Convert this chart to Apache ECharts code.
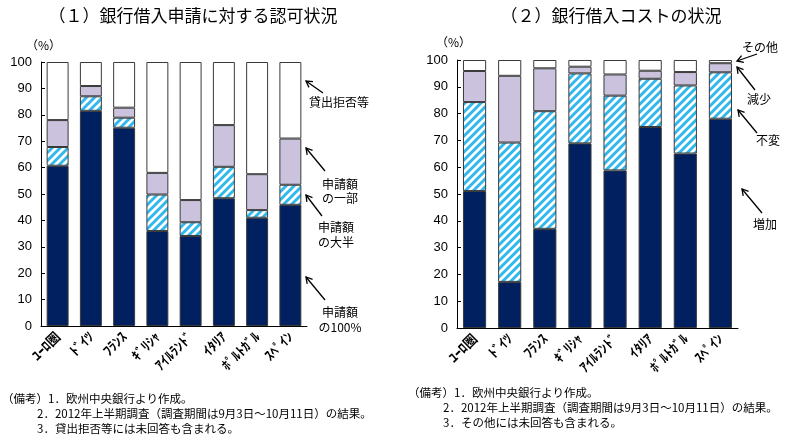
<!DOCTYPE html>
<html>
<head>
<meta charset="utf-8">
<script src="https://cdn.jsdelivr.net/npm/echarts@6/dist/echarts.min.js"></script>
<style>
  html, body { margin: 0; padding: 0; background: #fff; }
  #chart { width: 809px; height: 446px; }
</style>
</head>
<body>
<div id="chart"></div>
<script>
// 国名（半角カナ）
const countries = ['ﾕｰﾛ圏', 'ﾄﾞｲﾂ', 'ﾌﾗﾝｽ', 'ｷﾞﾘｼｬ', 'ｱｲﾙﾗﾝﾄﾞ', 'ｲﾀﾘｱ', 'ﾎﾟﾙﾄｶﾞﾙ', 'ｽﾍﾟｲﾝ']
const yTicks = [0, 10, 20, 30, 40, 50, 60, 70, 80, 90, 100]

// （１）銀行借入申請に対する認可状況
const full100 = [60.7, 81.5, 75.1, 36.0, 34.1, 48.4, 41.0, 45.9]
const mostPart = [7.1, 5.5, 3.8, 13.8, 5.2, 11.9, 2.9, 7.6]
const somePart = [10.2, 3.9, 3.8, 8.2, 8.4, 15.8, 13.6, 17.5]
const refused = [22.0, 9.1, 17.3, 42.0, 52.3, 23.9, 42.5, 29.0]

// （２）銀行借入コストの状況
const costUp = [51.1, 17.2, 37.0, 68.9, 58.8, 75.0, 65.1, 78.1]
const costSame = [33.2, 52.0, 43.9, 26.1, 27.9, 18.0, 25.4, 17.3]
const costDown = [11.6, 24.9, 16.0, 2.5, 7.9, 3.0, 5.0, 3.4]
const costOther = [4.1, 5.9, 3.1, 2.5, 5.4, 4.0, 4.5, 1.2]

const NAVY = '#002060'
const LAV = '#cbc3dd'
const CYAN = '#33b8ec'
const JP = '"Noto Sans CJK JP", sans-serif'

// 斜線パターン
function stripes() {
  const c = document.createElement('canvas')
  c.width = 8
  c.height = 8
  const g = c.getContext('2d')
  g.fillStyle = '#fff'
  g.fillRect(0, 0, 8, 8)
  g.strokeStyle = CYAN
  g.lineWidth = 3
  g.beginPath()
  g.moveTo(-2, 10); g.lineTo(10, -2)
  g.moveTo(-6, 6); g.lineTo(6, -6)
  g.moveTo(2, 14); g.lineTo(14, 2)
  g.stroke()
  return c
}
const hatch = { image: stripes(), repeat: 'repeat' }

function xAxis(gridIndex) {
  return {
    type: 'category',
    gridIndex: gridIndex,
    data: countries,
    axisLine: { lineStyle: { color: '#000', width: 1 } },
    axisTick: { show: false },
    axisLabel: {
      interval: 0,
      rotate: 45,
      margin: 8,
      fontFamily: JP,
      fontWeight: 'bold',
      fontSize: 13.5,
      color: '#000'
    }
  }
}

function yAxis(gridIndex) {
  return {
    type: 'value',
    gridIndex: gridIndex,
    min: 0,
    max: 100,
    interval: 10,
    axisLine: { show: true, lineStyle: { color: '#000', width: 1 } },
    axisTick: { show: true, inside: true, length: 4, lineStyle: { color: '#000' } },
    splitLine: { show: false },
    axisLabel: {
      margin: 9,
      fontFamily: 'Liberation Sans, Arial, sans-serif',
      fontSize: 13,
      color: '#000',
      formatter: function (v) { return yTicks.indexOf(v) >= 0 ? String(v) : '' }
    }
  }
}

function bar(name, data, color, axisIdx, stack) {
  return {
    name: name,
    type: 'bar',
    stack: stack,
    xAxisIndex: axisIdx,
    yAxisIndex: axisIdx,
    data: data,
    barCategoryGap: '34%',
    itemStyle: { color: color, borderColor: '#3a3a3a', borderWidth: 1 },
    emphasis: { disabled: true }
  }
}

// 矢印（↖）
function arrow(tip, tail) {
  const dx = tail[0] - tip[0]
  const dy = tail[1] - tip[1]
  const len = Math.sqrt(dx * dx + dy * dy)
  const ux = dx / len
  const uy = dy / len
  const a = Math.PI / 6
  const h = 7
  const p1 = [tip[0] + h * (ux * Math.cos(a) - uy * Math.sin(a)), tip[1] + h * (ux * Math.sin(a) + uy * Math.cos(a))]
  const p2 = [tip[0] + h * (ux * Math.cos(-a) - uy * Math.sin(-a)), tip[1] + h * (ux * Math.sin(-a) + uy * Math.cos(-a))]
  return [
    { type: 'line', shape: { x1: tip[0], y1: tip[1], x2: tail[0], y2: tail[1] }, style: { stroke: '#000', lineWidth: 1.3 } },
    { type: 'polyline', shape: { points: [p1, tip, p2] }, style: { stroke: '#000', lineWidth: 1.3, fill: null } }
  ]
}

function label(text, x, y, size, align) {
  return {
    type: 'text',
    x: x,
    y: y,
    style: {
      text: text,
      fontFamily: JP,
      fontSize: size || 12,
      fill: '#000',
      align: align || 'center',
      verticalAlign: 'middle'
    }
  }
}

const graphics = [].concat(
  arrow([306, 81], [323, 93]),
  arrow([306, 148], [325, 171]),
  arrow([306, 195], [322, 216]),
  arrow([306, 277], [325, 300]),
  arrow([737, 61], [757, 54]),
  arrow([737, 67], [755, 90]),
  arrow([738, 110], [757, 133]),
  arrow([742, 189], [762, 213]),
  [
    label('貸出拒否等', 339, 102),
    label('申請額', 340, 184),
    label('の一部', 340, 198),
    label('申請額', 336, 227),
    label('の大半', 336, 242),
    label('申請額', 340, 312),
    label('の100%', 340, 327),
    label('その他', 760, 47),
    label('減少', 759, 99),
    label('不変', 768, 140),
    label('増加', 765, 224),
    label('（%）', 26, 45, 12, 'left'),
    label('（%）', 436, 42, 12, 'left'),
    label('（備考）1．欧州中央銀行より作成。', 2, 399, 11.5, 'left'),
    label('2．2012年上半期調査（調査期間は9月3日～10月11日）の結果。', 37, 414, 11.5, 'left'),
    label('3．貸出拒否等には未回答も含まれる。', 37, 429, 11.5, 'left'),
    label('（備考）1．欧州中央銀行より作成。', 408, 393, 11.5, 'left'),
    label('2．2012年上半期調査（調査期間は9月3日～10月11日）の結果。', 443, 408, 11.5, 'left'),
    label('3．その他には未回答も含まれる。', 443, 423, 11.5, 'left')
  ]
)

const chart = echarts.init(document.getElementById('chart'))
chart.setOption({
  animation: false,
  backgroundColor: '#fff',
  title: [
    { text: '（１）銀行借入申請に対する認可状況', left: 188, top: 2, textAlign: 'center',
      textStyle: { fontFamily: JP, fontSize: 17, fontWeight: 'normal', color: '#000' } },
    { text: '（２）銀行借入コストの状況', left: 606, top: 2, textAlign: 'center',
      textStyle: { fontFamily: JP, fontSize: 17, fontWeight: 'normal', color: '#000' } }
  ],
  grid: [
    { left: 41, right: 502, top: 62, bottom: 120 },
    { left: 457, right: 71, top: 60, bottom: 118 }
  ],
  xAxis: [xAxis(0), xAxis(1)],
  yAxis: [yAxis(0), yAxis(1)],
  series: [
    bar('申請額の100%', full100, NAVY, 0, 'a'),
    bar('申請額の大半', mostPart, hatch, 0, 'a'),
    bar('申請額の一部', somePart, LAV, 0, 'a'),
    bar('貸出拒否等', refused, '#fff', 0, 'a'),
    bar('増加', costUp, NAVY, 1, 'b'),
    bar('不変', costSame, hatch, 1, 'b'),
    bar('減少', costDown, LAV, 1, 'b'),
    bar('その他', costOther, '#fff', 1, 'b')
  ],
  graphic: graphics
})
</script>
</body>
</html>
